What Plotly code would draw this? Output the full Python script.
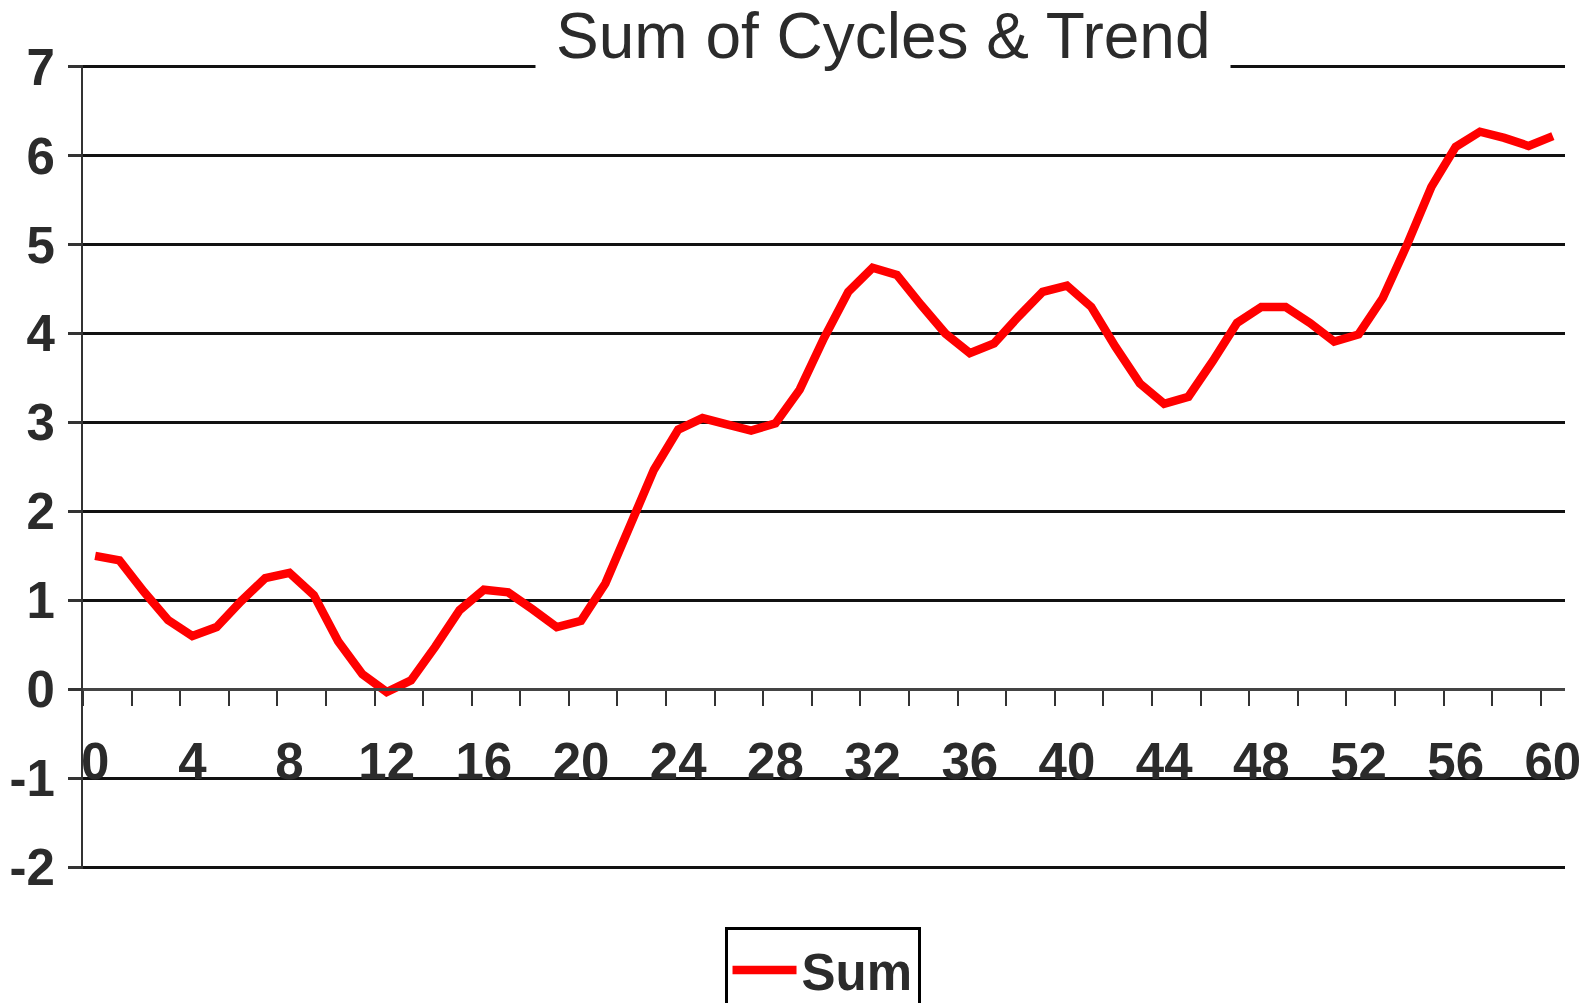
import plotly.graph_objects as go

# data
periods = list(range(0, 61))
sum_values = [
    1.50, 1.45, 1.10, 0.78, 0.60, 0.70, 0.99, 1.25, 1.31, 1.06,
    0.54, 0.17, -0.03, 0.10, 0.48, 0.89, 1.12, 1.09, 0.90, 0.70,
    0.77, 1.19, 1.83, 2.47, 2.92, 3.05, 2.98, 2.91, 2.99, 3.37,
    3.95, 4.47, 4.74, 4.66, 4.32, 4.00, 3.78, 3.89, 4.19, 4.47,
    4.54, 4.30, 3.85, 3.44, 3.21, 3.29, 3.69, 4.12, 4.30, 4.30,
    4.12, 3.91, 3.99, 4.40, 5.00, 5.65, 6.10, 6.27, 6.20, 6.11,
    6.22,
]
x_labels = list(range(0, 61, 4))
y_labels = list(range(-2, 8))

title_text = "Sum of Cycles & Trend"
series_name = "Sum"

text_col = "#2b2b2b"
lab_font = dict(family="Liberation Sans", size=51, color=text_col, weight="bold")

# tiny padding so the top/bottom gridlines (7 and -2) still get drawn
y_lo, y_hi = -2.02, 7.02
span = y_hi - y_lo

fig = go.Figure(
    data=[go.Scatter(
        x=periods,
        y=sum_values,
        mode="lines",
        name=series_name,
        line=dict(color="#ff0000", width=8.5),
    )]
)

# page body adds 8px, so the figure is 8px smaller than the window
fig.update_layout(
    width=1585,
    height=995,
    margin=dict(l=75, r=28, t=57, b=134, autoexpand=False),
    paper_bgcolor="white",
    plot_bgcolor="white",
    showlegend=True,
    legend=dict(
        orientation="h",
        x=0.499, xanchor="center",
        y=-0.0725, yanchor="top",
        bordercolor="#000000",
        borderwidth=3,
        font=lab_font,
        itemwidth=64,
    ),
)

# x axis crosses y at 0, labels every 4, tick marks every 2 categories
fig.update_xaxes(
    range=[-0.5, 60.5],
    anchor="free",
    position=(0 - y_lo) / span,
    showline=True,
    linecolor="#444444",
    linewidth=3,
    showgrid=False,
    zeroline=False,
    tickmode="array",
    tickvals=x_labels,
    ticktext=[str(v) for v in x_labels],
    ticks="",
    ticklabelstandoff=26,
    tickfont=lab_font,
    minor=dict(
        tickmode="linear",
        tick0=-0.5,
        dtick=2,
        ticks="outside",
        ticklen=15,
        tickwidth=2,
        tickcolor="#333333",
        showgrid=False,
    ),
)

fig.update_yaxes(
    range=[y_lo, y_hi],
    tickmode="array",
    tickvals=y_labels,
    ticktext=[str(v) for v in y_labels],
    showline=True,
    linecolor="#333333",
    linewidth=2,
    showgrid=True,
    gridcolor="#111111",
    gridwidth=3,
    zeroline=False,
    ticks="outside",
    ticklen=13,
    tickwidth=3,
    tickcolor="#333333",
    ticklabelstandoff=3,
    tickfont=lab_font,
)

# title sits on the top gridline with a white box behind it
fig.add_annotation(
    text=title_text,
    xref="paper", yref="paper",
    x=0.54, y=(7 - y_lo) / span,
    xanchor="center", yanchor="middle",
    yshift=31,
    showarrow=False,
    bgcolor="white",
    borderpad=20,
    font=dict(family="Liberation Sans", size=64, color=text_col),
)

fig.write_html("out.html")
